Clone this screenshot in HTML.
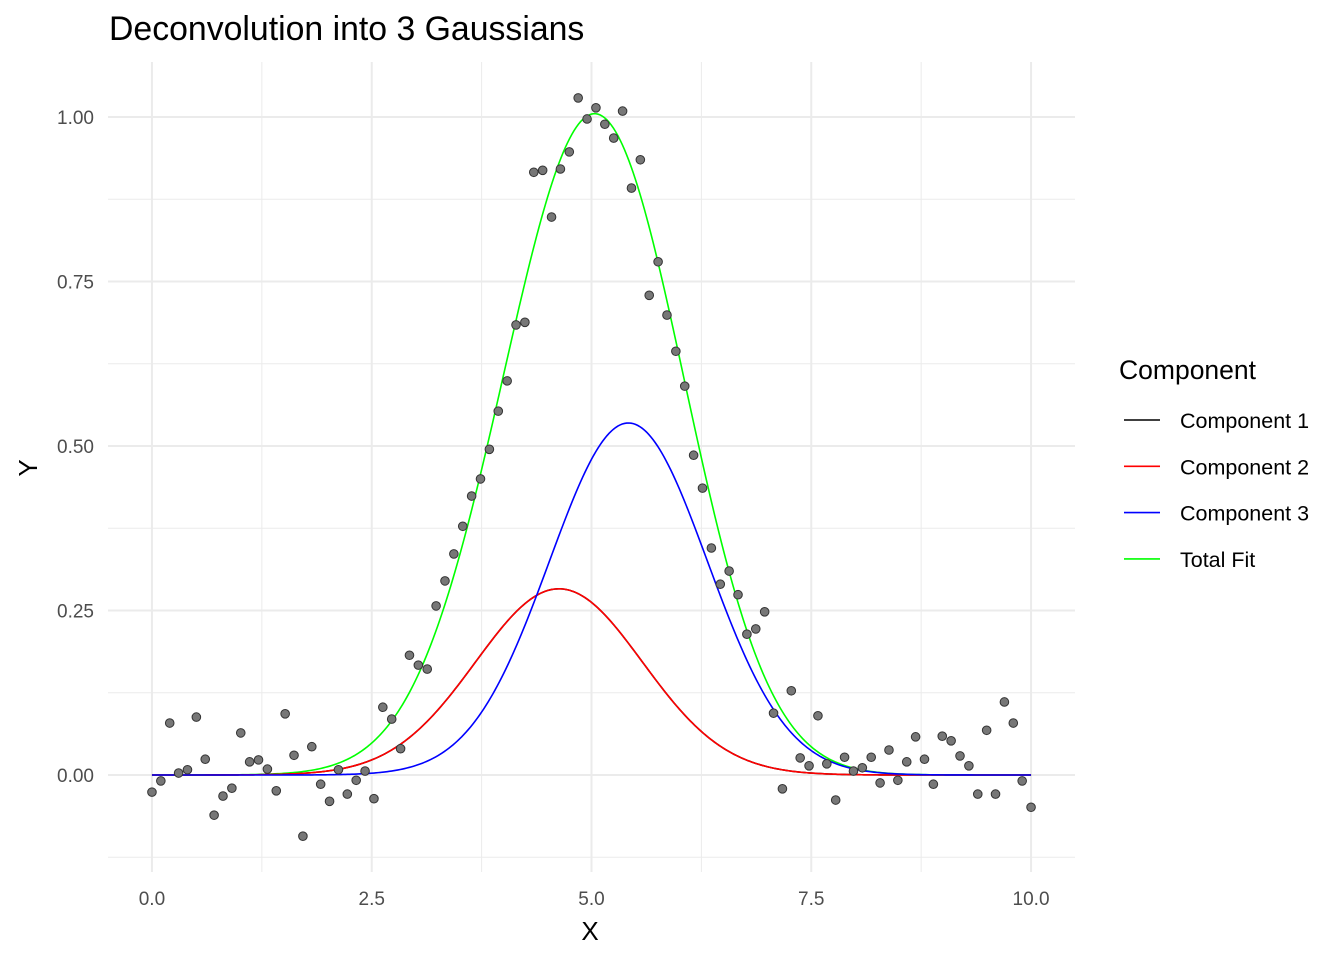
<!DOCTYPE html>
<html><head><meta charset="utf-8"><style>
body{margin:0;background:#fff;font-family:"Liberation Sans",Arial,sans-serif}
svg text{font-family:"Liberation Sans",Arial,sans-serif}
</style></head><body>
<svg id="chart" width="1344" height="960" xmlns="http://www.w3.org/2000/svg">
<text x="109" y="40" font-size="33.8" fill="#000">Deconvolution into 3 Gaussians</text>
<g id="grid"></g>
<g id="curves"></g>
<g id="points"></g>
<g id="axes"></g>
<text x="590" y="940" font-size="26" text-anchor="middle">X</text>
<text x="37" y="468" font-size="26" text-anchor="middle" transform="rotate(-90 37 468)">Y</text>
<g id="legend">
<text x="1119" y="379" font-size="26.5">Component</text>
</g>
</svg>
<script>
const yVals=[-0.026,-0.009,0.079,0.003,0.008,0.088,0.024,-0.061,-0.032,-0.020,0.064,0.020,0.023,0.009,-0.024,0.093,0.030,-0.093,0.043,-0.014,-0.040,0.008,-0.029,-0.008,0.006,-0.036,0.103,0.085,0.040,0.182,0.167,0.161,0.257,0.295,0.336,0.378,0.424,0.450,0.495,0.553,0.599,0.684,0.688,0.916,0.919,0.848,0.921,0.947,1.029,0.997,1.014,0.989,0.968,1.009,0.892,0.935,0.729,0.780,0.699,0.644,0.591,0.486,0.436,0.345,0.290,0.310,0.274,0.214,0.222,0.248,0.094,-0.021,0.128,0.026,0.014,0.090,0.017,-0.038,0.027,0.006,0.011,0.027,-0.012,0.038,-0.008,0.020,0.058,0.024,-0.014,0.059,0.052,0.029,0.014,-0.029,0.068,-0.029,0.111,0.079,-0.009,-0.049];
const compNames=["Component 1","Component 2","Component 3","Total Fit"];
const compColors=["#000000","#ff0000","#0000ff","#00ff00"];
const compAmp=[0.283,0.283,0.535];
const compMean=[4.63,4.63,5.42];
const compSd=[0.95,0.95,0.9];
const xTicks=[0,2.5,5,7.5,10];
const xTickLabels=["0.0","2.5","5.0","7.5","10.0"];
const yTicks=[0,0.25,0.5,0.75,1.0];
const yTickLabels=["0.00","0.25","0.50","0.75","1.00"];

const NS="http://www.w3.org/2000/svg";
const L=108,R=1075,T=62,B=872;
const xMin=-0.5,xMax=10.5,yMin=-0.1474,yMax=1.0836;
const sx=v=>L+(v-xMin)/(xMax-xMin)*(R-L);
const sy=v=>B-(v-yMin)/(yMax-yMin)*(B-T);
function mk(tag,attrs,parent){const e=document.createElementNS(NS,tag);for(const k in attrs)e.setAttribute(k,attrs[k]);parent.appendChild(e);return e;}
const grid=document.getElementById('grid'),axes=document.getElementById('axes');
for(let i=0;i<xTicks.length-1;i++){const v=(xTicks[i]+xTicks[i+1])/2;const l=mk('line',{x1:sx(v),x2:sx(v),y1:T,y2:B,stroke:'#ebebeb','stroke-width':1},grid);

}
for(let i=-1;i<yTicks.length;i++){const v=i<0?-0.125:(i<yTicks.length-1?(yTicks[i]+yTicks[i+1])/2:null);if(v===null)continue;const l=mk('line',{x1:L,x2:R,y1:sy(v),y2:sy(v),stroke:'#ebebeb','stroke-width':1},grid);

}
xTicks.forEach((v,i)=>{const l=mk('line',{x1:sx(v),x2:sx(v),y1:T,y2:B,stroke:'#ebebeb','stroke-width':2},grid);


const t=mk('text',{x:sx(v),y:905,'font-size':19,'text-anchor':'middle',fill:'#4d4d4d'},axes);t.textContent=xTickLabels[i];

});
yTicks.forEach((v,i)=>{const l=mk('line',{x1:L,x2:R,y1:sy(v),y2:sy(v),stroke:'#ebebeb','stroke-width':2},grid);


const t=mk('text',{x:94,y:sy(v)+7,'font-size':19,'text-anchor':'end',fill:'#4d4d4d'},axes);t.textContent=yTickLabels[i];

});
const pts=document.getElementById('points');
yVals.forEach((y,i)=>{const x=i*10/(yVals.length-1);const c=mk('circle',{cx:sx(x),cy:sy(y),r:4.3,fill:'#777',stroke:'#333','stroke-width':1},pts);

});
const g=(k,x)=>compAmp[k]*Math.exp(-((x-compMean[k])**2)/(2*compSd[k]**2));
const curves=document.getElementById('curves');
const order=[3,0,1,2];
order.forEach(k=>{let d='';for(let i=0;i<=400;i++){const x=i*10/400;const y=k<3?g(k,x):g(0,x)+g(1,x)+g(2,x);d+=(i?'L':'M')+sx(x).toFixed(2)+','+sy(y).toFixed(2);}
const p=mk('path',{d:d,fill:'none',stroke:compColors[k],'stroke-width':1.6},curves);

});
const leg=document.getElementById('legend');
compNames.forEach((n,i)=>{const y=420+i*46.3;const l=mk('line',{x1:1124,x2:1160,y1:y,y2:y,stroke:compColors[i],'stroke-width':1.6},leg);


const t=mk('text',{x:1180,y:y+8,'font-size':21.5},leg);t.textContent=n;

});
</script>
</body></html>
